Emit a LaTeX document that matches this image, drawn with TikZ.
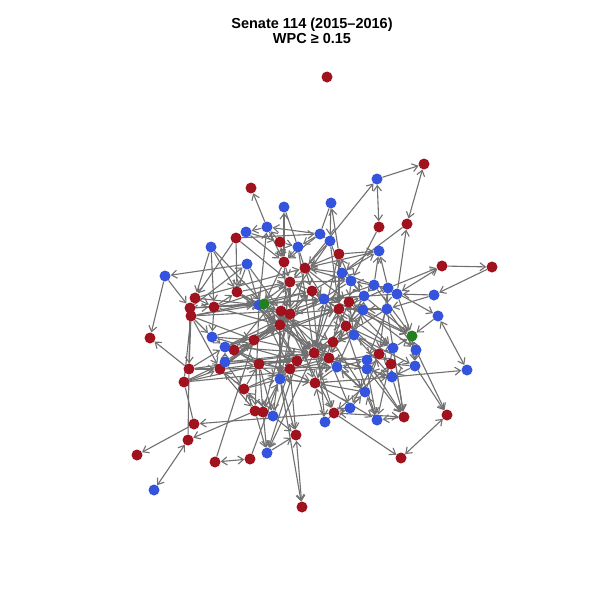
\documentclass[tikz,border=0pt]{standalone}
\usepackage{fontspec}
\setmainfont{Liberation Sans}
\usetikzlibrary{arrows.meta,backgrounds}
\definecolor{rnode}{RGB}{160,18,30}
\definecolor{bnode}{RGB}{52,84,222}
\definecolor{gnode}{RGB}{34,128,34}
\definecolor{edgec}{RGB}{112,112,112}
\tikzset{
  vtx/.style={circle,draw=none,inner sep=0pt,minimum size=11pt},
  rn/.style={vtx,fill=rnode},
  bn/.style={vtx,fill=bnode},
  gn/.style={vtx,fill=gnode},
  edge/.style={draw=edgec,line width=1.1pt,-{Straight Barb[length=5.5pt,width=8pt]}},
  edgeboth/.style={draw=edgec,line width=1.1pt,{Straight Barb[length=5.5pt,width=8pt]}-{Straight Barb[length=5.5pt,width=8pt]}},
  edgeplain/.style={draw=edgec,line width=1.1pt},
  titletext/.style={font=\fontsize{14.5pt}{17pt}\selectfont\bfseries,anchor=base}
}
\begin{document}
\begin{tikzpicture}[x=1pt,y=-1pt]
\useasboundingbox (0,0) rectangle (600,600);
\node[titletext] (t1) at (312,28) {Senate 114 (2015–2016)};
\node[titletext] (t2) at (312,43) {WPC ≥ 0.15};
% red nodes
\foreach \n/\x/\y in {r1/327/77,r2/424/164,r3/251/188,r4/379/227,r5/407/224,r6/236/238,r7/280/242,r8/339/254,r9/442/266,r10/492/267,r11/284/262,r12/305/268,r13/290/282,r14/312/291,r15/237/292,r16/195/298,r17/349/302,r18/190/308,r19/214/307,r20/191/316,r21/281/311,r22/290/314,r23/339/309,r24/280/325,r25/346/326,r26/150/338,r27/254/340,r28/333/342,r29/234/350,r30/314/353,r31/329/358,r32/379/354,r33/297/361,r34/259/364,r35/290/369,r36/220/369,r37/189/369,r38/391/364,r39/184/382,r40/315/383,r41/244/389,r42/255/411,r43/263/412,r44/334/413,r45/404/417,r46/447/415,r47/194/424,r48/188/440,r49/296/435,r50/137/455,r51/215/462,r52/250/459,r53/401/458,r54/302/507}
  \node[rn] (\n) at (\x,\y) {};
% blue nodes
\foreach \n/\x/\y in {b1/377/179,b2/284/207,b3/331/203,b4/267/227,b5/246/232,b6/320/234,b7/330/241,b8/298/247,b9/211/247,b10/379/251,b11/247/264,b12/165/276,b13/342/273,b14/351/281,b15/374/285,b16/388/288,b17/397/294,b18/434/295,b19/364/296,b20/324/299,b21/259/305,b22/363/310,b23/387/309,b24/438/316,b25/212/337,b26/354/335,b27/225/347,b28/393/348,b29/416/350,b30/225/362,b31/367/360,b32/367/369,b33/415/366,b34/467/370,b35/337/367,b36/392/377,b37/280/379,b38/365/392,b39/350/408,b40/273/416,b41/325/422,b42/377/420,b43/267/453,b44/154/490}
  \node[bn] (\n) at (\x,\y) {};
\node[gn] (g1) at (264,304) {};
\node[gn] (g2) at (412,336) {};
\begin{scope}[on background layer]
\fill[white] (0,0) rectangle (600,600);
% bidirectional
\foreach \a/\b in {b1/r4,r2/r5,b24/b34,r46/r53,r49/r54,r51/r52,r48/b44,r44/r45,r9/b17}
  \draw[edgeboth] (\a) -- (\b);
% plain
\foreach \a/\b in {b3/b6,r27/r51,b37/r52,r39/r47,r37/r48,b2/b8,b41/r44,r37/r20,r39/r20}
  \draw[edgeplain] (\a) -- (\b);
% directed
\foreach \a/\b in {b1/r2,r12/b1,r8/b3,b4/r3,r11/b2,b6/b4,b4/b5,b21/b4,r6/b6,b9/r16,b11/b12,b12/r26,b12/r18,r6/r16,b11/b21,r4/b14,r5/b13,b17/r5,b15/b10,b16/b10,b13/b10,b16/r9,r9/r10,r10/b18,b18/b23,b36/b34,b16/b24,b29/r46,b33/r46,b28/r45,b36/r45,b32/b42,r44/r53,b43/r49,r42/b43,r43/b43,r44/r47,r47/r50,r42/r48,r37/r26,b37/r54,
r7/b4,b5/r7,r7/b8,r11/r7,b6/r11,b7/r12,r8/r12,r12/r13,r13/b21,r13/r22,r14/r13,b20/r14,r14/b13,b13/r12,b14/r8,b15/b13,b16/b14,b17/b15,b19/b20,r17/b19,b22/r17,r23/b20,r23/r14,b23/b22,b23/r23,r25/r23,b26/r25,r28/r25,r28/r23,r30/r28,r30/r22,r30/b20,r31/r30,r33/r30,r35/r33,r34/r35,r24/r22,r21/r24,g1/r21,b21/r22,r27/r24,r29/r27,b27/r29,b30/b27,r36/b30,b25/b27,r19/b21,r15/b21,r16/r19,r18/r19,r20/g1,r11/g1,b11/r15,r6/r15,b9/r19,r19/b25,b25/r27,r29/r34,r34/r33,r36/r34,r37/r36,r39/b30,r41/r36,r41/r34,b37/r35,r40/b37,r40/r31,b35/r40,r31/b35,b32/b35,b31/r31,r32/b31,r38/r32,b28/r32,b28/g2,b29/g2,b33/r38,b36/r38,b36/b32,r32/b26,b26/r28,b26/b22,b22/b19,b15/b19,b16/b23,b17/g2,b24/g2,r17/g2,r25/b28,b19/r25,b38/b35,b38/r40,b39/b38,r44/b39,b41/r40,b42/b38,b40/r41,r42/r41,r43/b37,b40/r35,
r21/r44,r22/r43,b21/r42,r13/b40,r14/b41,r23/b42,r30/r44,r30/b43,r33/b43,r35/r49,b37/r49,r24/b37,g1/r30,r21/r30,b21/r33,b27/r30,r29/r40,r36/b35,b30/r30,r18/b20,r16/r12,b9/g1,b11/r21,r15/r28,b25/b20,r39/r30,b23/r45,b31/r45,r38/r44,b33/b36,g2/b33,r32/b39,b28/b42,b7/r23,r8/r23,b6/b7,b6/b8,r7/r11,b8/r11,r11/r13,b8/r14,r12/b20,r12/r17,b13/b19,b14/b19,b14/r17,r17/b26,b22/r25,b23/r28,r28/r31,b26/r30,r25/r30,r23/r30,b20/r30,r24/r30,r27/r30,r36/r27,r37/b27,r20/b25,r18/b11,r19/r15,r15/r24,b21/r24,r21/r13,r22/r14,r24/r31,r35/r31,b37/r40,r41/b37,r34/b40,r36/r42,r42/r43,b30/r41,r29/b37,b27/r24,r39/r36,r20/r36,r18/r37,r16/r20,r30/b36,r31/b32,r40/b42,b29/b33,r14/g2,b19/g2,b15/g2,r20/r14,b27/r23,r36/r22,r29/r13,b30/r33,r41/r35,b5/r11,r6/r13,b4/r11,b7/b13,b3/b7,r8/b10,r12/b14,r13/b14,b21/r14,g1/b20,r22/r23,r24/r25,r33/r28,r35/r32,b35/b31,r40/b36,b38/r32,r34/r43,b40/r49,r45/b42,b32/r45,b22/b29,b23/b29,r17/b28,b26/b33,r25/b36,
r18/g1,r16/b21,r20/r21,r19/r13,r15/r13,b9/r15,r37/r30,r36/r14,r39/b35,r29/r23,b27/r22,b17/b20,b16/r23,b15/r22,b18/b17,b10/r12,b14/r24,b13/r30,r8/r30,b7/r21,b8/r30,r11/r35,r12/b37,b19/r31,b22/b35,r17/r40,b23/b31,b16/r32,r14/r38,b20/b28,r28/b38,r31/b39,r22/r40,r21/b38,g1/r33,b21/r35,r19/r24,r20/r27,r36/r24,b30/r22,r34/r31,b25/r33,r15/r30}
  \draw[edge] (\a) -- (\b);
\end{scope}
\end{tikzpicture}
\end{document}
